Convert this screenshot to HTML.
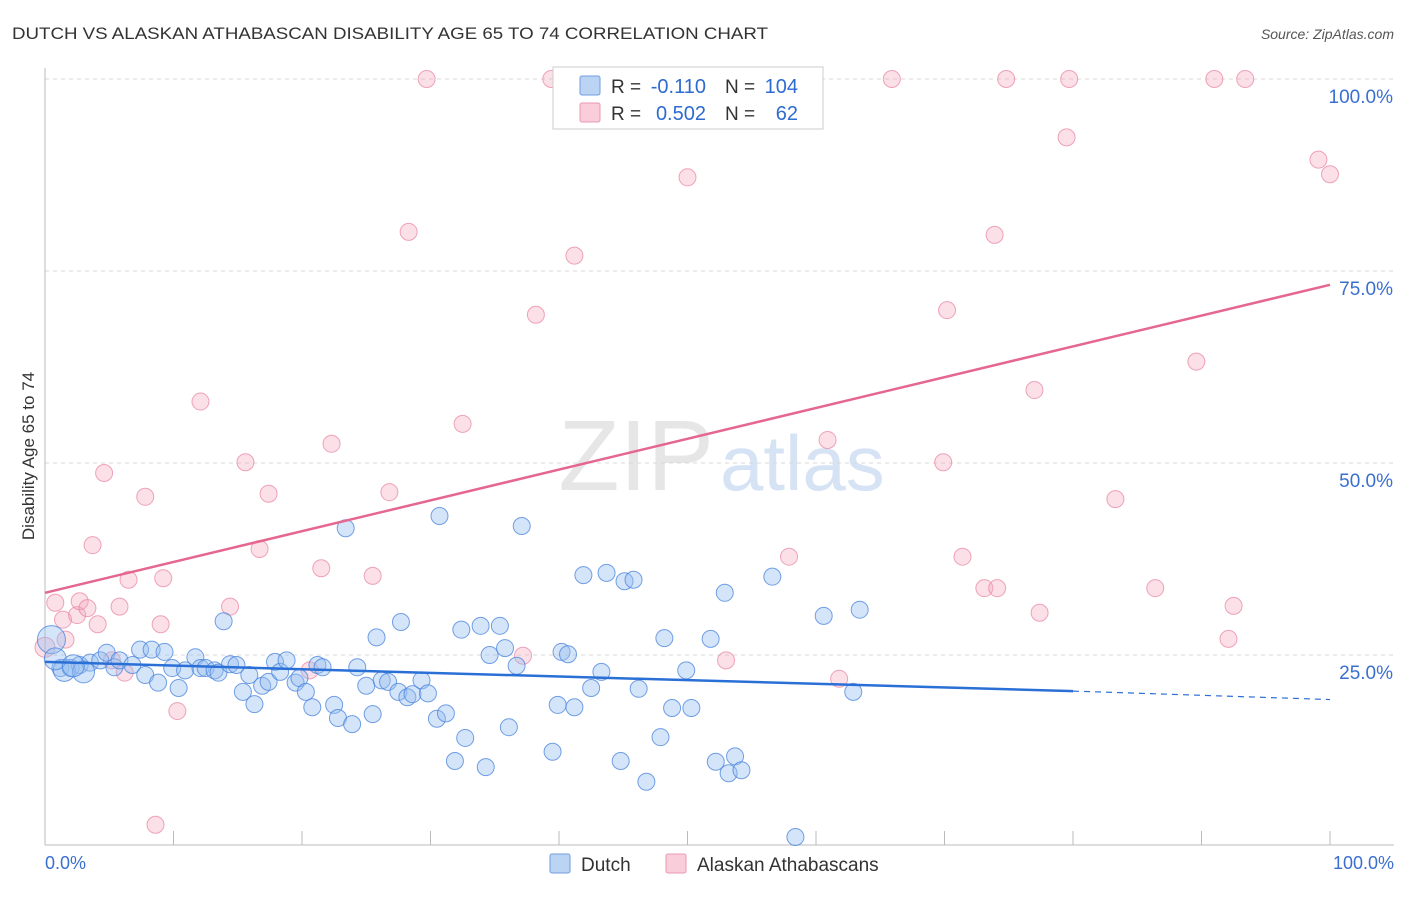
<!DOCTYPE html>
<html><head><meta charset="utf-8"><style>
body{margin:0;background:#fff;font-family:"Liberation Sans",sans-serif}
svg text{font-family:"Liberation Sans",sans-serif}
</style></head><body>
<svg width="1406" height="892">
<text x="12" y="39" font-size="17" fill="#333" textLength="756" lengthAdjust="spacingAndGlyphs">DUTCH VS ALASKAN ATHABASCAN DISABILITY AGE 65 TO 74 CORRELATION CHART</text>
<text x="1394" y="39" font-size="14" fill="#555" font-style="italic" text-anchor="end">Source: ZipAtlas.com</text>
<text x="714" y="490" font-size="100" fill="#e6e6e6" text-anchor="end" font-family="Liberation Serif">ZIP</text>
<text x="720" y="490" font-size="78" fill="#d6e3f5">atlas</text>
<g id="grid"></g>
<g id="marks"></g>
<text transform="translate(34,456) rotate(-90)" font-size="17" fill="#333" text-anchor="middle">Disability Age 65 to 74</text>
<text x="45" y="869" font-size="18" fill="#3a6fd0">0.0%</text>
<text x="1394" y="869" font-size="18" fill="#3a6fd0" text-anchor="end">100.0%</text>
<g>
<rect x="553" y="67" width="270" height="62" fill="#fff" stroke="#ccc"/>
<rect x="580" y="76" width="20" height="19" fill="#bcd4f4" stroke="#6f9ee0" rx="2"/>
<rect x="580" y="103" width="20" height="19" fill="#f9cdd9" stroke="#eb98b2" rx="2"/>
<text x="611" y="93" font-size="19" fill="#333">R =</text>
<text x="706" y="93" font-size="20" fill="#2d6bd0" text-anchor="end">-0.110</text>
<text x="725" y="93" font-size="19" fill="#333">N =</text>
<text x="798" y="93" font-size="20" fill="#2d6bd0" text-anchor="end">104</text>
<text x="611" y="120" font-size="19" fill="#333">R =</text>
<text x="706" y="120" font-size="20" fill="#2d6bd0" text-anchor="end">0.502</text>
<text x="725" y="120" font-size="19" fill="#333">N =</text>
<text x="798" y="120" font-size="20" fill="#2d6bd0" text-anchor="end">62</text>
</g>
<g>
<rect x="550" y="854" width="20" height="19" fill="#bcd4f4" stroke="#6f9ee0" rx="2"/>
<text x="581" y="871" font-size="19" fill="#333">Dutch</text>
<rect x="666" y="854" width="20" height="19" fill="#f9cdd9" stroke="#eb98b2" rx="2"/>
<text x="697" y="871" font-size="19" fill="#333">Alaskan Athabascans</text>
</g>
</svg>
<script>
const yTicks=[25,50,75,100];
const yTickLabels=["25.0%","50.0%","75.0%","100.0%"];
const xTicks=[0,10,20,30,40,50,60,70,80,90,100];
const dutchX=[0.5,1.2,2,2.7,3.5,4.3,4.8,5.4,5.8,6.8,7.4,7.8,8.3,8.8,9.3,9.9,10.4,10.9,11.7,12.1,12.5,13.2,13.5,13.9,14.4,14.9,15.4,15.9,16.3,16.9,17.4,17.9,18.3,18.8,19.5,19.8,20.3,20.8,21.2,21.6,22.5,22.8,23.4,23.9,24.3,25,25.5,25.8,26.2,26.7,27.5,27.7,28.2,28.6,29.3,29.8,30.5,30.7,31.2,31.9,32.4,32.7,33.9,34.3,34.6,35.4,35.8,36.1,36.7,37.1,39.5,39.9,40.2,40.7,41.2,41.9,42.5,43.3,43.7,44.8,45.1,45.8,46.2,46.8,47.9,48.2,48.8,49.9,50.3,51.8,52.2,52.9,53.2,53.7,54.2,56.6,58.4,60.6,62.9,63.4,1.5,3,0.8,2.2];
const dutchY=[27,23.3,23.3,23.7,24,24.3,25.3,23.4,24.3,23.7,25.7,22.4,25.7,21.4,25.4,23.3,20.7,23,24.7,23.3,23.3,23,22.7,29.4,23.8,23.7,20.2,22.4,18.6,21,21.5,24.1,22.8,24.3,21.4,22,20.2,18.2,23.7,23.4,18.5,16.8,41.5,16,23.4,21,17.3,27.3,21.7,21.5,20.2,29.3,19.5,19.9,21.7,20,16.7,43.1,17.4,11.2,28.3,14.2,28.8,10.4,25,28.8,25.9,15.6,23.6,41.8,12.4,18.5,25.4,25.1,18.2,35.4,20.7,22.8,35.7,11.2,34.6,34.8,20.6,8.5,14.3,27.2,18.1,23,18.1,27.1,11.1,33.1,9.6,11.8,10,35.2,1.3,30.1,20.2,30.9,23,22.8,24.5,23.6];
const athaX=[0,0.8,1.4,1.6,2.5,2.7,3.3,3.7,4.1,4.6,5.2,5.8,6.2,6.5,7.8,8.6,9,9.2,10.3,12.1,14.4,15.6,16.7,17.4,20.6,21.5,22.3,25.5,26.8,28.3,29.7,32.5,37.2,38.2,39.4,41.2,50,53,57.9,60.9,61.8,65.9,69.9,70.2,71.4,73.1,73.9,74.1,74.8,77,77.4,79.5,79.7,83.3,86.4,89.6,91,92.1,92.5,93.4,99.1,100];
const athaY=[26,31.8,29.6,27,30.2,32,31.1,39.3,29,48.7,24.3,31.3,22.7,34.8,45.6,2.9,29,35,17.7,58,31.3,50.1,38.8,46,23,36.3,52.5,35.3,46.2,80.1,100,55.1,24.9,69.3,100,77,87.2,24.3,37.8,53,21.9,100,50.1,69.9,37.8,33.7,79.7,33.7,100,59.5,30.5,92.4,100,45.3,33.7,63.2,100,27.1,31.4,100,89.5,87.6];
const dutchTrend=[24.1,20.3,19.2]; // at x=0, 80, 100
const athaTrend=[33.1,73.2]; // at x=0, 100
const X0=45,X1=1330,Y0=847,Y100=79;
const sx=v=>X0+(X1-X0)*v/100, sy=v=>Y0-(Y0-Y100)*v/100;
const NS="http://www.w3.org/2000/svg";
function mk(tag,attrs,parent){const e=document.createElementNS(NS,tag);for(const k in attrs)e.setAttribute(k,attrs[k]);parent.appendChild(e);return e;}
const grid=document.getElementById('grid'),marks=document.getElementById('marks');
yTicks.forEach((t,i)=>{
 const l=mk('line',{x1:X0,x2:1394,y1:sy(t),y2:sy(t),stroke:'#d8d8d8','stroke-dasharray':'4,4'},grid);
 
 
 const tx=mk('text',{x:1393,y:sy(t)+24,'font-size':19,fill:'#3a6fd0','text-anchor':'end'},grid);
 tx.textContent=yTickLabels[i];
 
 
});
const ya=mk('line',{x1:X0,x2:X0,y1:68,y2:845,stroke:'#bbb'},grid);


const xa=mk('line',{x1:X0,x2:1394,y1:845,y2:845,stroke:'#bbb'},grid);


xTicks.forEach(t=>{
 const l=mk('line',{x1:sx(t),x2:sx(t),y1:831,y2:845,stroke:'#bbb'},grid);
 
 
});
athaX.forEach((x,i)=>{
 const c=mk('circle',{cx:sx(x),cy:sy(athaY[i]),r:i==0?10:8.5,fill:'rgba(244,166,190,0.35)',stroke:'rgba(232,128,160,0.7)','stroke-width':1},marks);
 
 
});
dutchX.forEach((x,i)=>{
 const c=mk('circle',{cx:sx(x),cy:sy(dutchY[i]),r:i==0?14:(i>=100?11:8.5),fill:'rgba(150,190,240,0.4)',stroke:'rgba(70,130,220,0.75)','stroke-width':1},marks);
 
 
});
const at=mk('line',{x1:sx(0),y1:sy(athaTrend[0]),x2:sx(100),y2:sy(athaTrend[1]),stroke:'#e5668f','stroke-width':2.5},marks);


const dt=mk('line',{x1:sx(0),y1:sy(dutchTrend[0]),x2:sx(80),y2:sy(dutchTrend[1]),stroke:'#2a6fd6','stroke-width':2.5},marks);


const dd=mk('line',{x1:sx(80),y1:sy(dutchTrend[1]),x2:sx(100),y2:sy(dutchTrend[2]),stroke:'#2a6fd6','stroke-width':1.2,'stroke-dasharray':'6,5'},marks);


</script>
</body></html>
